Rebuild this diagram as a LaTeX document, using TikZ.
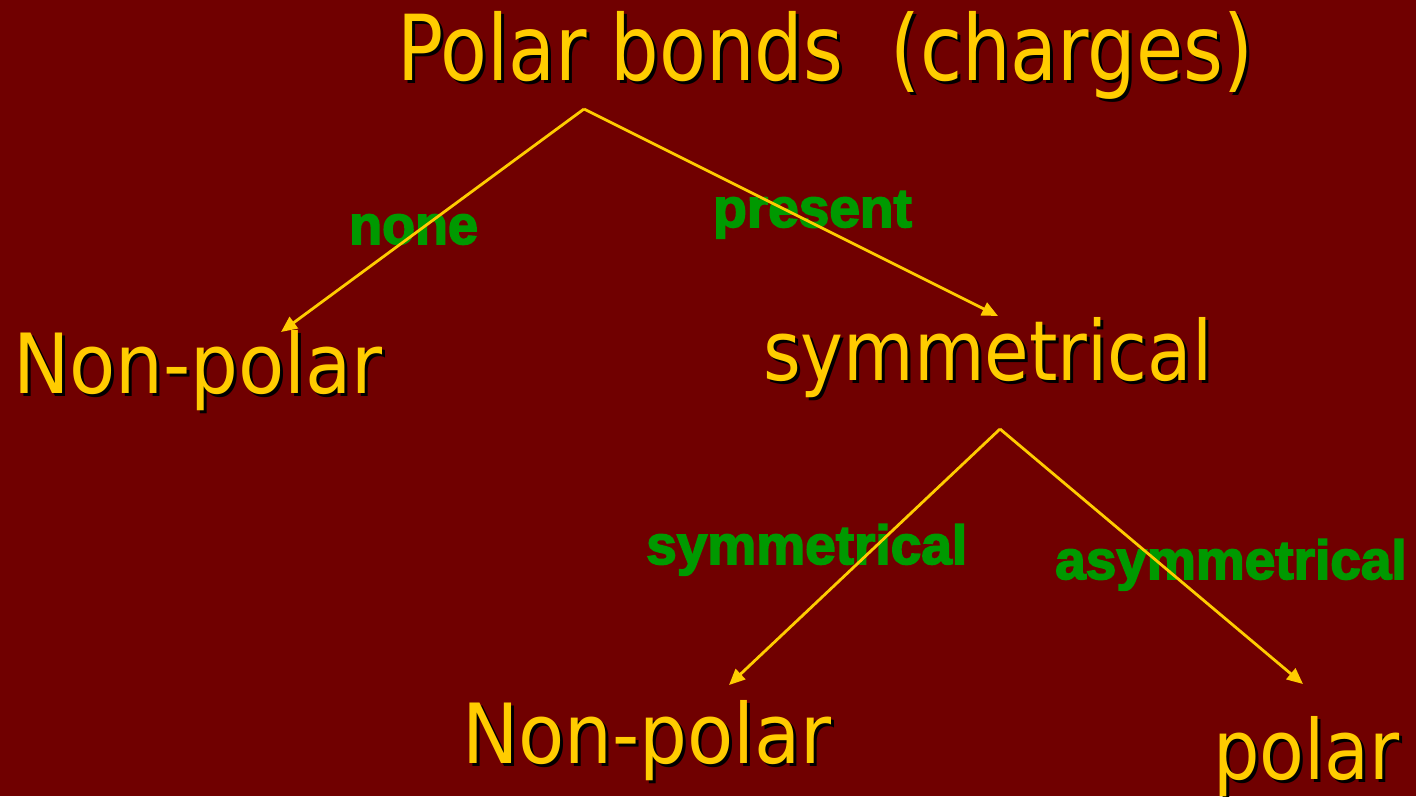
\documentclass[tikz,border=0pt]{standalone}
\usepackage{fontspec}
\usetikzlibrary{arrows.meta}
\newfontfamily\titlefont{DejaVu Sans Condensed}
\newfontfamily\labelfont[FakeBold=3]{Liberation Sans Bold}
\definecolor{bgred}{HTML}{700000}
\definecolor{goldtext}{HTML}{FFCC00}
\definecolor{greentext}{HTML}{009900}
\newcommand{\titletext}{\scalebox{0.935}[1]{Polar bonds\hspace{0.55em}(charges)}}
\newcommand{\nonpolar}{\scalebox{1.01}[1]{Non-polar}}
\tikzset{
  big/.style={inner sep=0pt, anchor=base west, text=goldtext, font=\titlefont\fontsize{83}{88}\selectfont},
  bigshadow/.style={inner sep=0pt, anchor=base west, text=black, font=\titlefont\fontsize{83}{88}\selectfont},
  lab/.style={inner sep=0pt, anchor=base west, text=greentext, font=\labelfont\fontsize{55}{60}\selectfont},
  conn/.style={draw=goldtext, line width=2.8pt, -{Triangle[length=16pt,width=14pt]}},
}
\begin{document}
\begin{tikzpicture}[x=1pt,y=-1pt]
\fill[bgred] (0,0) rectangle (1416,796);
\useasboundingbox (0,0) rectangle (1416,796);
% shadows
\node[bigshadow, font=\titlefont\fontsize{91}{96}\selectfont] at (400,83) {\titletext};
\node[bigshadow] at (16,396) {\nonpolar};
\node[bigshadow] at (766,383) {\scalebox{0.97}[1]{symmetrical}};
\node[bigshadow] at (1216,782) {\scalebox{0.98}[1]{polar}};
\node[bigshadow] at (465,766) {\nonpolar};
% text
\node[big, font=\titlefont\fontsize{91}{96}\selectfont] (title) at (397,80) {\titletext};
\node[big] (np1) at (13,393) {\nonpolar};
\node[big] (sym) at (763,380) {\scalebox{0.97}[1]{symmetrical}};
\node[big] (np2) at (462,763) {\nonpolar};
\node[big] (pol) at (1213,779) {\scalebox{0.98}[1]{polar}};
% labels
\node[lab] (lnone) at (349,244) {\scalebox{0.98}[1]{none}};
\node[lab] (lpres) at (713,227) {present};
\node[lab] (lsym) at (646,564) {symmetrical};
\node[lab] (lasym) at (1055,579) {asymmetrical};
% connectors
\coordinate (apex1) at (584,109);
\coordinate (tip1) at (281,332);
\coordinate (tip2) at (998,316);
\coordinate (apex2) at (1000,429);
\coordinate (tip3) at (729,685);
\coordinate (tip4) at (1303,684);
\draw[conn] (apex1) -- (tip1);
\draw[conn] (apex1) -- (tip2);
\draw[conn] (apex2) -- (tip3);
\draw[conn] (apex2) -- (tip4);
\end{tikzpicture}
\end{document}
